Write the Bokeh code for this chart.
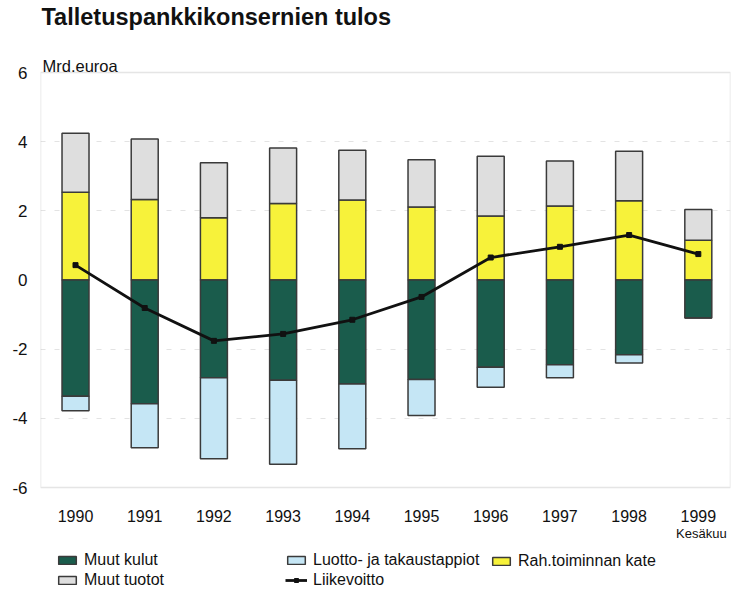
from bokeh.plotting import figure
from bokeh.models import Range1d, FixedTicker, Legend, LegendItem, BoxAnnotation
from bokeh.core.properties import value
from bokeh.embed import file_html
from bokeh.resources import INLINE

title_text = "Talletuspankkikonsernien tulos"
unit_text = "Mrd.euroa"
years = ["1990", "1991", "1992", "1993", "1994", "1995", "1996", "1997", "1998", "1999"]
last_note = "Kesäkuu"
rah_kate = [2.54, 2.33, 1.80, 2.21, 2.31, 2.11, 1.85, 2.14, 2.29, 1.15]
muut_tuotot = [1.70, 1.75, 1.59, 1.61, 1.44, 1.37, 1.73, 1.30, 1.43, 0.89]
muut_kulut = [-3.36, -3.58, -2.83, -2.90, -3.01, -2.88, -2.52, -2.45, -2.16, -1.10]
tappiot = [-0.42, -1.27, -2.34, -2.43, -1.87, -1.04, -0.58, -0.38, -0.24, 0.0]
liikevoitto = [0.43, -0.81, -1.76, -1.56, -1.15, -0.49, 0.65, 0.96, 1.30, 0.75]
y_ticks = [-6, -4, -2, 0, 2, 4, 6]
y_min, y_max = -6, 6

C_GREEN = "#1a5c4c"
C_BLUE = "#c5e6f5"
C_YELLOW = "#f7f23a"
C_GRAY = "#dedede"
C_EDGE = "#3a3a3a"
C_TEXT = "#111111"
FONT = "Liberation Sans"

xs = list(range(len(years)))
data = dict(x=xs, kate=rah_kate, tuotot=muut_tuotot, kulut=muut_kulut, tappiot=tappiot, lv=liikevoitto)

# layout (pixels): figure 732x593, chart box from y=72 to y=487, x=40 to x=730
W, H = 732, 593
BOX_TOP, BOX_BOTTOM = 72, 487
PX_PER_UNIT = (BOX_BOTTOM - BOX_TOP) / (y_max - y_min)
x_rng = Range1d(-0.506, -0.506 + 690 / 69.2)
y_rng = Range1d(y_min - (H - BOX_BOTTOM) / PX_PER_UNIT, y_max + BOX_TOP / PX_PER_UNIT)

p = figure(width=W, height=H, output_backend="svg", toolbar_location=None,
           x_range=x_rng, y_range=y_rng,
           min_border_left=40, min_border_right=2, min_border_top=0, min_border_bottom=0)
p.outline_line_color = None
p.xaxis.visible = False

box = BoxAnnotation(top=y_max, bottom=y_min, fill_color=None, fill_alpha=0,
                    line_color="#a8a8a8", line_width=1.5, level="underlay")
p.add_layout(box)

p.xgrid.grid_line_color = None
p.ygrid.grid_line_color = "#e3e3e3"
p.ygrid.grid_line_dash = "5 9"
p.ygrid.ticker = FixedTicker(ticks=[t for t in y_ticks if t not in (y_min, 0, y_max)])

ya = p.yaxis[0]
ya.ticker = FixedTicker(ticks=y_ticks)
ya.major_label_overrides = {t: str(t) for t in y_ticks}
ya.axis_line_color = None
ya.major_tick_line_color = None
ya.minor_tick_line_color = None
ya.major_tick_out = 0
ya.major_tick_in = 0
ya.major_label_text_font = FONT
ya.major_label_text_color = C_TEXT
ya.major_label_text_font_size = "17px"
ya.major_label_standoff = 13

pos = p.vbar_stack(["kate", "tuotot"], x="x", width=0.39, source=data,
                   fill_color=[C_YELLOW, C_GRAY], line_color=C_EDGE, line_width=1.5)
neg = p.vbar_stack(["kulut", "tappiot"], x="x", width=0.39, source=data,
                   fill_color=[C_GREEN, C_BLUE], line_color=C_EDGE, line_width=1.5)

ln = p.line("x", "lv", source=data, line_color=C_TEXT, line_width=2.8)
mk = p.scatter("x", "lv", source=data, marker="square", size=5, fill_color=C_TEXT, line_color=C_TEXT)

# category labels under the box
p.text(x=xs, y=[y_min] * len(xs), text=years, text_font=value(FONT), text_font_size="16px",
       text_color=C_TEXT, text_align="center", text_baseline="middle", y_offset=28)
p.text(x=[xs[-1]], y=[y_min], text=[last_note], text_font=value(FONT), text_font_size="13px",
       text_color=C_TEXT, text_align="center", text_baseline="middle", x_offset=3, y_offset=46)

# title and unit above the box
p.text(x=[x_rng.start], y=[y_max], text=[title_text], text_font=value(FONT), text_font_size="23.5px",
       text_font_style="bold", text_color=C_TEXT, text_align="left", text_baseline="middle",
       x_offset=1, y_offset=-56)
p.text(x=[x_rng.start], y=[y_max], text=[unit_text], text_font=value(FONT), text_font_size="16.5px",
       text_color=C_TEXT, text_align="left", text_baseline="middle", x_offset=2, y_offset=-7)

def mklegend(items, loc):
    lg = Legend(items=items, location=loc, orientation="vertical",
                margin=0, padding=0, spacing=2, label_height=17,
                glyph_width=22, glyph_height=10, label_standoff=6,
                label_text_font=FONT, label_text_font_size="16px", label_text_color=C_TEXT,
                border_line_color=None, background_fill_alpha=0)
    p.add_layout(lg)

mklegend([LegendItem(label="Muut kulut", renderers=[neg[0]]),
          LegendItem(label="Muut tuotot", renderers=[pos[1]])], (16, 4))
mklegend([LegendItem(label="Luotto- ja takaustappiot", renderers=[neg[1]]),
          LegendItem(label="Liikevoitto", renderers=[ln, mk])], (245, 4))
mklegend([LegendItem(label="Rah.toiminnan kate", renderers=[pos[0]])], (450, 23))

open("out.html", "w").write(file_html(p, INLINE))
